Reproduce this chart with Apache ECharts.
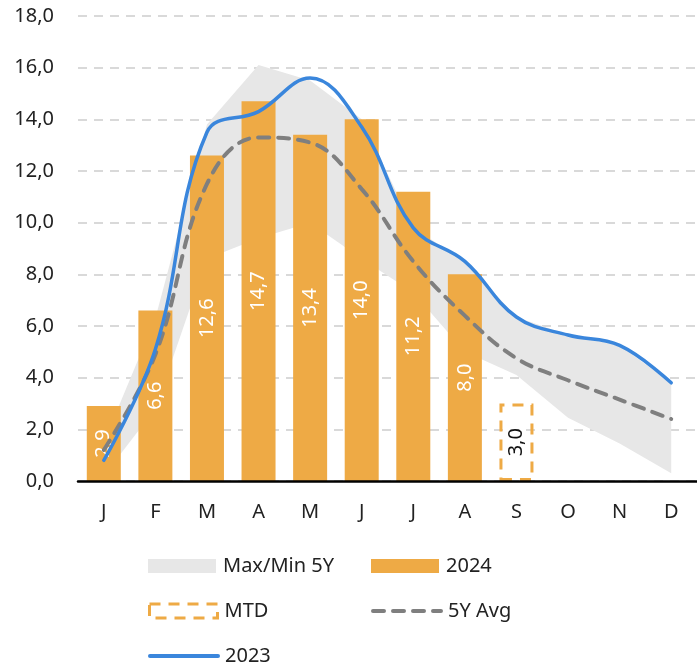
<!DOCTYPE html>
<html>
<head>
<meta charset="utf-8">
<script src="https://cdn.jsdelivr.net/npm/echarts@6/dist/echarts.min.js"></script>
<style>
  html, body { margin: 0; padding: 0; background: #ffffff; }
  #chart { width: 697px; height: 669px; }
</style>
</head>
<body>
<div id="chart"></div>
<script>
// Month initials on the category axis
const months = ['J', 'F', 'M', 'A', 'M', 'J', 'J', 'A', 'S', 'O', 'N', 'D'];

// Monthly values
const values2024 = [2.9, 6.6, 12.6, 14.7, 13.4, 14.0, 11.2, 8.0, null, null, null, null];
const valuesMTD  = [null, null, null, null, null, null, null, null, 3.0, null, null, null];
const values2023 = [0.8, 5.1, 13.5, 14.3, 15.6, 13.7, 9.8, 8.5, 6.35, 5.65, 5.25, 3.8];
const avg5Y      = [1.2, 4.9, 11.5, 13.3, 13.1, 11.3, 8.5, 6.4, 4.75, 3.9, 3.15, 2.4];
const max5Y      = [1.5, 6.3, 13.8, 16.1, 15.5, 14.0, 9.8, 8.5, 6.35, 5.65, 5.25, 3.8];
const min5Y      = [0.2, 2.8, 8.6, 9.4, 10.0, 8.6, 7.3, 5.0, 4.1, 2.45, 1.45, 0.3];

// Y axis range
const yMin = 0, yMax = 18, yStep = 2;

const FONT = 'Noto Sans, Open Sans, sans-serif';
const ORANGE = '#eeaa45';
const BLUE = '#3a86dc';
const GREY_LINE = '#7f7f7f';
const BAND = '#e7e7e7';
const MTD_DASH = [11, 8];
const AVG_DASH = [11, 9];

const comma1 = v => (v == null ? '' : Number(v).toFixed(1).replace('.', ','));
const bandSpan = max5Y.map((v, i) => +(v - min5Y[i]).toFixed(3));

const chart = echarts.init(document.getElementById('chart'), null, { renderer: 'canvas' });

const legendText = { fontFamily: FONT, fontSize: 20, color: '#222222' };
function legendAt(name, left, top, extra) {
  return Object.assign({
    data: [name], left: left, top: top, orient: 'horizontal',
    itemWidth: 68, itemHeight: 14, itemGap: 0,
    textStyle: Object.assign({}, legendText, { padding: [0, 0, 0, 2] }),
    selectedMode: false
  }, extra || {});
}

chart.setOption({
  animation: false,
  backgroundColor: '#ffffff',
  textStyle: { fontFamily: FONT },
  grid: { left: 78, right: -3, top: 16, bottom: 188, containLabel: false },
  legend: [
    legendAt('Max/Min 5Y', 143, 551, { icon: 'rect', itemStyle: { color: BAND } }),
    legendAt('2024', 366, 551, { icon: 'rect' }),
    legendAt('MTD', 143, 596, {
      icon: 'rect',
      itemStyle: { color: 'rgba(0,0,0,0)', borderColor: ORANGE, borderWidth: 3, borderType: MTD_DASH }
    }),
    legendAt('5Y Avg', 366, 596, {
      itemStyle: { opacity: 0 },
      lineStyle: { color: GREY_LINE, width: 4, type: AVG_DASH, cap: 'round' }
    }),
    legendAt('2023', 143, 641, {
      itemStyle: { opacity: 0 },
      lineStyle: { color: BLUE, width: 4, cap: 'round' }
    })
  ],
  xAxis: {
    type: 'category',
    data: months,
    boundaryGap: true,
    axisLine: { lineStyle: { color: '#000000', width: 2.5 } },
    axisTick: { show: false },
    axisLabel: { fontFamily: FONT, fontSize: 20, color: '#222222', margin: 21 },
    z: 10
  },
  yAxis: {
    type: 'value',
    min: yMin, max: yMax, interval: yStep,
    axisLine: { show: false },
    axisTick: { show: false },
    axisLabel: { fontFamily: FONT, fontSize: 20, color: '#222222', margin: 24, formatter: v => comma1(v) },
    splitLine: { lineStyle: { color: '#d9d9d9', width: 2, type: [9, 7] } }
  },
  series: [
    {
      name: 'min', type: 'line', stack: 'band', data: min5Y,
      symbol: 'none', lineStyle: { opacity: 0 }, silent: true, z: 1
    },
    {
      name: 'Max/Min 5Y', type: 'line', stack: 'band', data: bandSpan,
      symbol: 'none', lineStyle: { opacity: 0 },
      itemStyle: { color: BAND },
      areaStyle: { color: BAND, opacity: 1 }, silent: true, z: 1
    },
    {
      name: '2024', type: 'bar', data: values2024, barWidth: 34, barGap: '-100%',
      itemStyle: { color: ORANGE }, z: 2,
      label: {
        show: true, position: 'inside', rotate: 90, color: '#ffffff',
        fontFamily: FONT, fontSize: 20, formatter: p => comma1(p.value)
      }
    },
    {
      name: 'MTD', type: 'bar', data: valuesMTD, barWidth: 34, barGap: '-100%',
      itemStyle: { color: 'rgba(0,0,0,0)', borderColor: ORANGE, borderWidth: 3, borderType: MTD_DASH },
      z: 2,
      label: {
        show: true, position: 'inside', rotate: 90, color: '#111111',
        fontFamily: FONT, fontSize: 20, formatter: p => comma1(p.value)
      }
    },
    {
      name: '5Y Avg', type: 'line', data: avg5Y, smooth: 0.4, symbol: 'none',
      itemStyle: { color: GREY_LINE },
      lineStyle: { color: GREY_LINE, width: 4, type: AVG_DASH, cap: 'round' }, z: 3
    },
    {
      name: '2023', type: 'line', data: values2023, smooth: 0.4, symbol: 'none',
      itemStyle: { color: BLUE },
      lineStyle: { color: BLUE, width: 3.5, cap: 'round' }, z: 4
    }
  ]
});
</script>
</body>
</html>
